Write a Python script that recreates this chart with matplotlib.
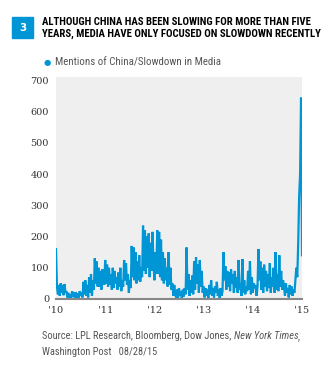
import numpy as np
import pandas as pd
import matplotlib
matplotlib.use("Agg")
import matplotlib.pyplot as plt
from matplotlib.patches import Rectangle

# weekly counts of "China slowdown" mentions, Jan 2010 -> early 2015
mentions = [
    160, 40, 15, 45, 10, 50, 20, 45, 12, 48, 20,
    25, 5, 20, 0, 15, 3, 25, 8, 20, 2, 22, 5, 18, 0, 25, 10, 20, 5,
    55, 15, 60, 10, 45, 5,
    70, 20, 80, 10, 60, 30,
    130, 50, 120, 40,
    100, 40, 90, 30, 95, 60, 45,
    125, 50, 110, 40, 100, 45,
    80, 30, 100, 35, 90, 50, 70, 30, 85, 40, 100, 25,
    60, 40, 125, 60, 115, 45,
    80, 20, 60, 35,
    170, 70, 165, 60,
    150, 50, 120, 60, 140, 55, 100, 70,
    235,
    90, 220, 80, 200, 100, 210, 70, 180, 90, 215,
    120, 60, 150, 80,
    220, 80, 215, 70, 190, 60,
    150, 50, 130, 60, 100, 40, 150, 45,
    100, 30, 50, 10, 45, 15,
    5, 30, 2, 35, 10, 25, 0, 30, 8, 35, 15,
    165,
    30, 80, 10, 60, 20, 75, 15,
    120, 30, 134, 50, 110, 20, 125, 40, 90, 20,
    40, 5, 35, 10, 30, 0, 45, 15, 60, 10, 35, 5, 40, 20, 55, 10, 30, 0, 35, 10, 25,
    150,
    60, 105, 30, 90, 40, 85, 25, 95, 50, 80, 20, 90, 35, 70, 20, 125, 30,
    50, 10, 128, 20, 60, 15, 40, 25, 90, 30, 121, 15, 70, 20, 50, 35, 45, 10, 40,
    160, 60,
    120, 30, 100, 20, 110, 40, 90, 25, 80, 35, 115, 20, 70, 40,
    100, 20, 150, 30, 80, 25, 140, 40, 90, 30, 60,
    40, 10, 50, 20, 35, 5, 45, 15, 40, 10, 30, 20,
    60, 100, 70,
    180, 330,
    400, 645,
    140,
]
dates = pd.date_range("2010-01-01", "2015-01-01", periods=len(mentions))

year_ticks = pd.to_datetime(["2010-01-01", "2011-01-01", "2012-01-01",
                             "2013-01-01", "2014-01-01", "2015-01-01"])
year_labels = ["'10", "'11", "'12", "'13", "'14", "'15"]
y_ticks = [0, 100, 200, 300, 400, 500, 600, 700]

blue = "#0096d6"
gray_txt = "#555555"
serif = "DejaVu Serif"
cond = ["Roboto Condensed", "DejaVu Sans"]

fig = plt.figure(figsize=(3.26, 3.65), dpi=100)
fig.patch.set_facecolor("white")

ax = fig.add_axes([56 / 326, 66 / 365, 246 / 326, 222 / 365])
ax.set_facecolor("#efefef")
ax.plot(dates, mentions, color=blue, lw=1.6, solid_joinstyle="miter")

ax.set_ylim(0, 711)
ax.set_xlim(dates[0], dates[-1])
ax.set_yticks(y_ticks)
ax.set_yticklabels([str(v) for v in y_ticks], family=serif, fontsize=7, color="#333333")
ax.set_xticks(year_ticks)
ax.set_xticklabels(year_labels, family=serif, fontsize=7, color="#333333")
ax.tick_params(length=0, pad=5)
for side in ["top", "right", "left"]:
    ax.spines[side].set_visible(False)
ax.spines["bottom"].set_color("#888888")
ax.spines["bottom"].set_linewidth(1.5)

# header: number badge and title
fig.patches.append(Rectangle((12 / 326, 1 - 38 / 365), 21 / 326, 21 / 365,
                             transform=fig.transFigure, color=blue))
fig.text(22.5 / 326, 1 - 28 / 365, "3", color="white", fontsize=7.5, weight="bold",
         ha="center", va="center", family="DejaVu Sans")
title = fig.text(42 / 326, 1 - 17 / 365,
                 "ALTHOUGH CHINA HAS BEEN SLOWING FOR MORE THAN FIVE\n"
                 "YEARS, MEDIA HAVE ONLY FOCUSED ON SLOWDOWN RECENTLY",
                 family=cond, weight="bold", fontsize=8.6, color="black",
                 va="top", ha="left", linespacing=1.2)

# legend
fig.text(47 / 326, 1 - 62 / 365, "\u25cf", color=blue, fontsize=6,
         ha="center", va="center", family="DejaVu Sans")
fig.text(55 / 326, 1 - 62 / 365, "Mentions of China/Slowdown in Media",
         family=cond, fontsize=7.8, color=gray_txt, va="center", ha="left")

# source note
src_size = 7.5
t1 = fig.text(42 / 326, 1 - 339 / 365, "Source: LPL Research, Bloomberg, Dow Jones, ",
              family=cond, fontsize=src_size, color=gray_txt, va="baseline", ha="left")
t2 = fig.text(0, 0, "New York Times", family=cond, style="italic",
              fontsize=src_size, color=gray_txt, va="baseline", ha="left")
t3 = fig.text(0, 0, ",", family=cond, fontsize=src_size, color=gray_txt,
              va="baseline", ha="left")
fig.text(42 / 326, 1 - 355 / 365, "Washington Post   08/28/15",
         family=cond, fontsize=src_size, color=gray_txt, va="baseline", ha="left")

fig.canvas.draw()
r = fig.canvas.get_renderer()

# title width should reach x=318 px
w = title.get_window_extent(r).width
title.set_fontsize(8.6 * 276 / w)

inv = fig.transFigure.inverted()
bb1 = t1.get_window_extent(r)
t2.set_position((inv.transform((bb1.x1, 0))[0], 1 - 339 / 365))
bb2 = t2.get_window_extent(r)
t3.set_position((inv.transform((bb2.x1, 0))[0], 1 - 339 / 365))

fig.savefig("out.png", dpi=100)
